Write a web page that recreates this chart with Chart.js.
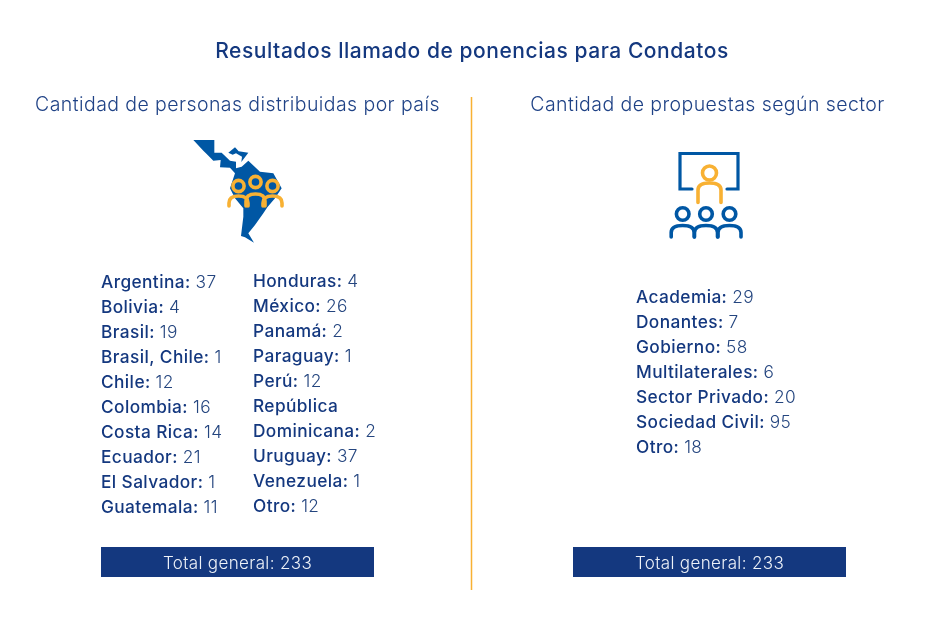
<!DOCTYPE html>
<html><head><meta charset="utf-8">
<style>html,body{margin:0;padding:0;background:#fff}#w{width:945px;height:630px;position:relative}</style>
<script src="https://cdn.jsdelivr.net/npm/chart.js@4"></script></head>
<body><div id="w"><canvas id="c" width="945" height="630"></canvas></div>
<script>
const titleText = "Resultados llamado de ponencias para Condatos";
const leftHeading = "Cantidad de personas distribuidas por país";
const rightHeading = "Cantidad de propuestas según sector";
const countriesA = ["Argentina","Bolivia","Brasil","Brasil, Chile","Chile","Colombia","Costa Rica","Ecuador","El Salvador","Guatemala"];
const countsA = [37,4,19,1,12,16,14,21,1,11];
const countriesB = ["Honduras","México","Panamá","Paraguay","Perú","República Dominicana","Uruguay","Venezuela","Otro"];
const countsB = [4,26,2,1,12,2,37,1,12];
const sectors = ["Academia","Donantes","Gobierno","Multilaterales","Sector Privado","Sociedad Civil","Otro"];
const sectorCounts = [29,7,58,6,20,95,18];
const totalLabel = "Total general: 233";

const NAVY="#14387f", BLUE="#0057a4", GOLD="#f8b133";
const FF='"Inter"';

function rowsOf(names,vals){const out=[];names.forEach((n,i)=>{
  if(n==="República Dominicana"){out.push({b:"República",v:""});out.push({b:"Dominicana:",v:String(vals[i])});}
  else out.push({b:n+":",v:String(vals[i])});});return out;}

function drawRows(ctx,rows,x,y0,step){
  ctx.textBaseline="alphabetic";ctx.textAlign="left";
  rows.forEach((r,i)=>{const y=y0+i*step;
    ctx.fillStyle=NAVY;ctx.font='500 17.3px '+FF;ctx.letterSpacing="0.4px";
    ctx.fillText(r.b,x,y);
    if(r.v){const w=ctx.measureText(r.b).width;
      ctx.font='300 17.3px '+FF;ctx.fillStyle="#24457f";ctx.fillText(r.v,x+w+5,y);}
  });ctx.letterSpacing="0px";}

function person(ctx,x,yh,r,hw,top,bottom,color,lw){
  ctx.strokeStyle=color;ctx.lineWidth=lw;ctx.lineCap="round";ctx.lineJoin="round";
  ctx.beginPath();ctx.arc(x,yh,r,0,Math.PI*2);ctx.stroke();
  ctx.beginPath();ctx.moveTo(x-hw,bottom);ctx.lineTo(x-hw,top+7);
  ctx.bezierCurveTo(x-hw,top+2,x-hw*0.6,top,x,top);
  ctx.bezierCurveTo(x+hw*0.6,top,x+hw,top+2,x+hw,top+7);ctx.lineTo(x+hw,bottom);ctx.stroke();}

function poly(ctx,ox,oy,pts){ctx.beginPath();pts.forEach((p,i)=>{const X=ox+p[0]/3,Y=oy+p[1]/3;i?ctx.lineTo(X,Y):ctx.moveTo(X,Y);});ctx.closePath();ctx.fill();}

const infographic={id:"infographic",afterDraw(chart){
  const ctx=chart.ctx, sx=chart.scales.x, sy=chart.scales.y;
  const X=v=>sx.getPixelForValue(v), Y=v=>sy.getPixelForValue(v);
  ctx.save();
  ctx.textAlign="center";ctx.textBaseline="alphabetic";
  ctx.fillStyle=NAVY;ctx.font='500 21px '+FF;ctx.letterSpacing="0.55px";
  ctx.fillText(titleText,X(472),Y(58));
  ctx.font='300 19.5px '+FF;ctx.fillStyle="#1f4286";ctx.letterSpacing="0.42px";
  ctx.fillText(leftHeading,X(237.5),Y(111));
  ctx.fillText(rightHeading,X(707.5),Y(111));
  ctx.letterSpacing="0px";
  ctx.strokeStyle=GOLD;ctx.lineWidth=1.5;ctx.beginPath();ctx.moveTo(X(471.5),Y(97));ctx.lineTo(X(471.5),Y(590));ctx.stroke();
  ctx.fillStyle=BLUE;
  poly(ctx,180,130,[[40,30],[103,30],[103,68],[125,68],[150,92],[168,95],[168,115],[185,110],[205,92],[240,125],[280,130],[305,175],[285,205],[262,232],[250,250],[225,285],[205,310],[222,338],[195,322],[183,318],[190,260],[190,235],[165,205],[150,175],[165,130],[150,113],[120,112],[122,90],[100,92],[80,72],[70,62]]);
  poly(ctx,180,130,[[145,68],[165,52],[176,64],[205,68],[184,96],[186,80],[168,70],[158,74]]);
  person(ctx,238.5,186,5.6,9.5,196,206,GOLD,3.6);
  person(ctx,272.5,186,5.6,9.5,196,206,GOLD,3.6);
  person(ctx,255.5,182,5.6,9.5,194,206,GOLD,3.6);
  ctx.strokeStyle=BLUE;ctx.lineWidth=3.2;ctx.lineCap="round";ctx.lineJoin="miter";
  ctx.beginPath();ctx.moveTo(692,189);ctx.lineTo(680,189);ctx.lineTo(680,153.5);ctx.lineTo(738,153.5);ctx.lineTo(738,189);ctx.lineTo(727,189);ctx.stroke();
  person(ctx,709.5,173,7,11.5,183,202.5,GOLD,3.6);
  [682.7,706,729.5].forEach(x=>person(ctx,x,214,6.3,11.5,225.5,237,BLUE,3.6));
  drawRows(ctx,rowsOf(countriesA,countsA),X(101),Y(288),25);
  drawRows(ctx,rowsOf(countriesB,countsB),X(253),Y(287),25);
  drawRows(ctx,rowsOf(sectors,sectorCounts),X(636),Y(303),25);
  [[101,374],[573,846]].forEach(b=>{
    ctx.fillStyle="#14387f";ctx.fillRect(X(b[0]),Y(547),b[1]-b[0],30);
    ctx.fillStyle="#eef2f8";ctx.font='300 17px '+FF;ctx.textAlign="center";ctx.letterSpacing="0.35px";
    ctx.fillText(totalLabel,X((b[0]+b[1])/2),Y(568.5));
  });
  ctx.restore();
}};

new Chart(document.getElementById("c"),{
  type:"scatter",
  data:{datasets:[
    {label:"País A",data:countsA.map((v,i)=>({x:101,y:282+i*25})),pointRadius:0},
    {label:"País B",data:countsB.map((v,i)=>({x:253,y:281+i*25})),pointRadius:0},
    {label:"Sector",data:sectorCounts.map((v,i)=>({x:636,y:297+i*25})),pointRadius:0}
  ]},
  options:{responsive:false,animation:false,events:[],layout:{padding:0},
    plugins:{legend:{display:false},title:{display:false},tooltip:{enabled:false}},
    scales:{x:{type:"linear",display:false,min:0,max:945},y:{type:"linear",display:false,min:0,max:630,reverse:true}}},
  plugins:[infographic]
});
</script></body></html>
